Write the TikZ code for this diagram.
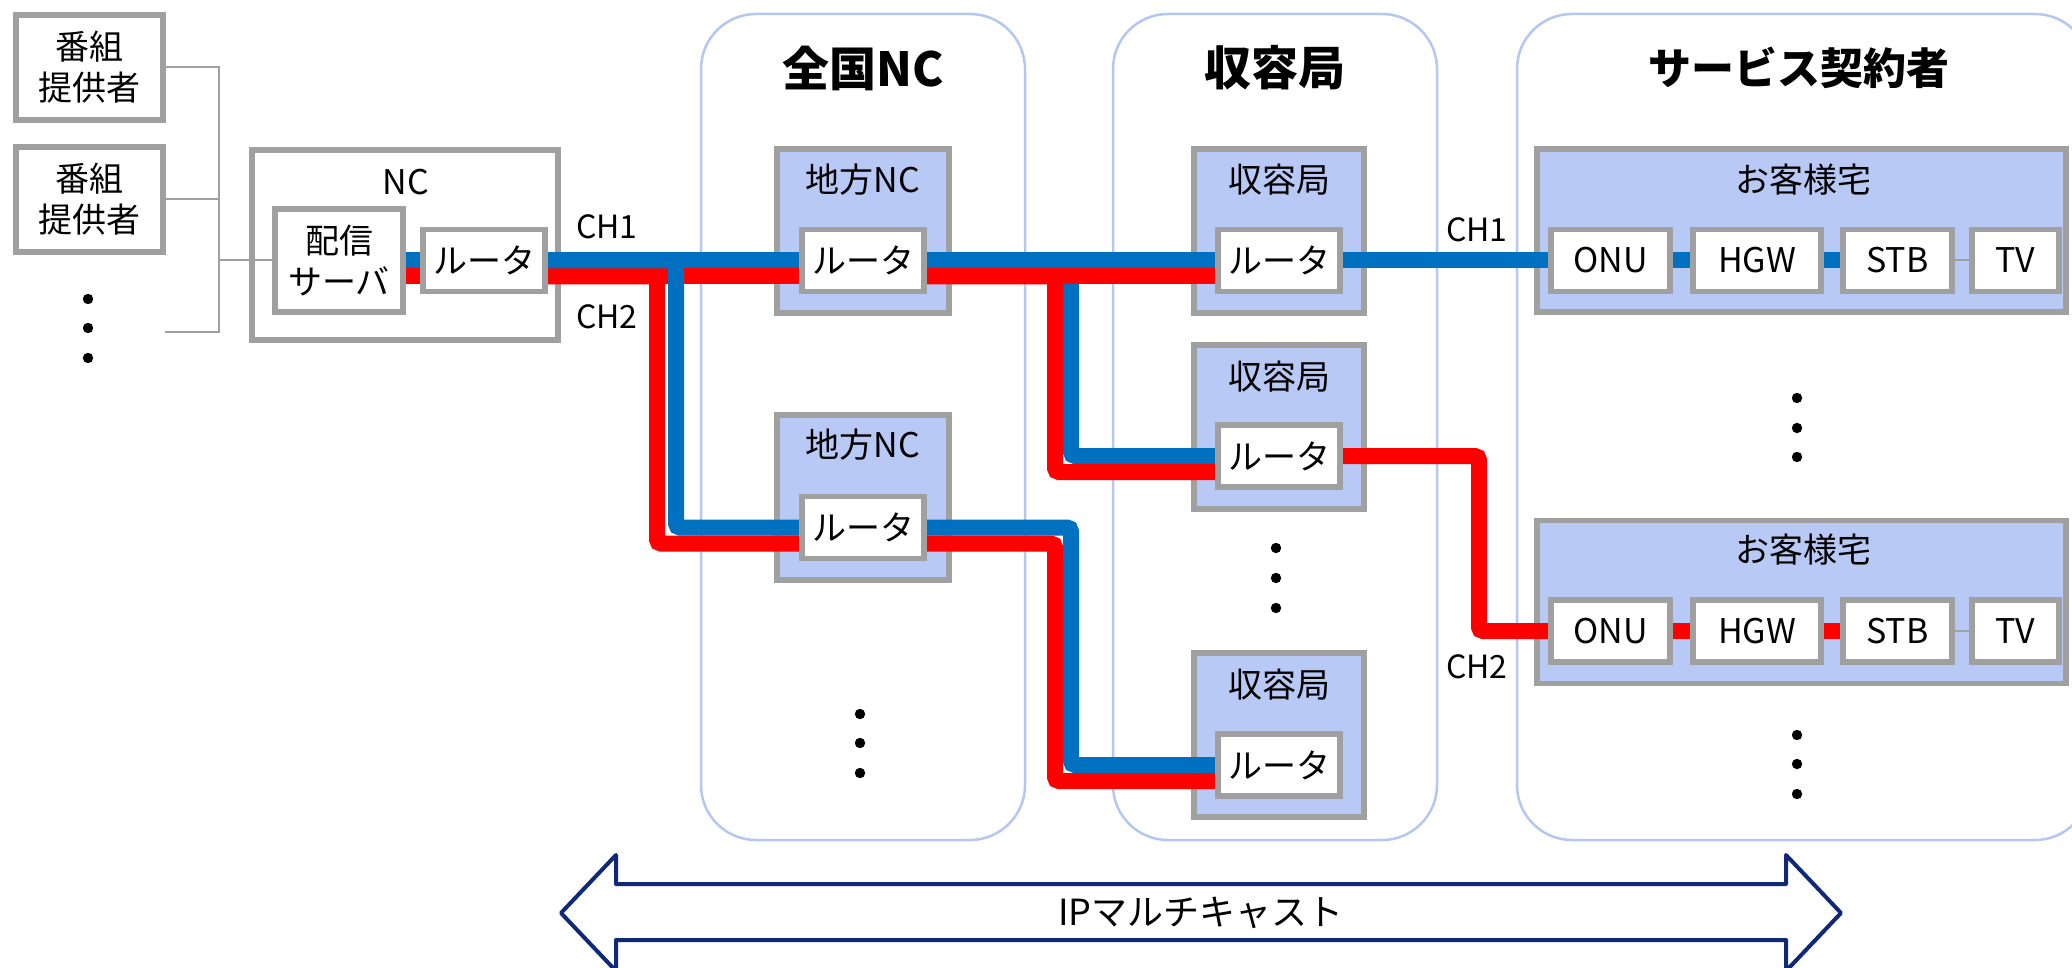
\documentclass[tikz,border=0pt]{standalone}
\usepackage{fontspec}
\setmainfont{Noto Sans CJK JP}
\definecolor{gr}{RGB}{160,160,160}
\definecolor{lb}{RGB}{184,201,245}
\definecolor{cb}{RGB}{180,199,240}
\definecolor{blu}{RGB}{0,112,192}
\definecolor{rdc}{RGB}{255,0,0}
\definecolor{nv}{RGB}{16,40,120}
\pgfdeclarelayer{back}
\pgfdeclarelayer{mid}
\pgfsetlayers{back,mid,main}
\begin{document}
\begin{tikzpicture}[x=0.5pt,y=-0.5pt,
  gbox/.style={draw=gr, line width=2.75pt, fill=white, inner sep=0pt},
  lbox/.style={draw=gr, line width=2.75pt, fill=lb, inner sep=0pt},
  rtr/.style={gbox, lab, minimum width=61pt, minimum height=31pt},
  dev/.style={gbox, lab, minimum height=31pt},
  cont/.style={draw=cb, line width=1.25pt, rounded corners=27.5pt, fill=white, inner sep=0pt, minimum height=413pt},
  bl/.style={draw=blu, line width=8pt, rounded corners=2pt},
  rd/.style={draw=rdc, line width=8pt, rounded corners=2pt},
  thinc/.style={draw=gr, line width=1pt},
  lab/.style={font=\fontsize{17}{20.5}\selectfont, align=center, inner sep=0pt},
  chl/.style={font=\fontsize{16}{19}\selectfont, inner sep=0pt},
  ttl/.style={font=\bfseries\fontsize{23.5}{26}\selectfont, inner sep=0pt},
  dotc/.style={fill=black}]
\useasboundingbox (0,0) rectangle (2072,968);

% ---------- background containers ----------
\begin{pgfonlayer}{back}
\fill[white] (0,0) rectangle (2072,968);
\node[cont, minimum width=162pt] (zc) at (863,427) {};
\node[cont, minimum width=162pt] (sc) at (1275,427) {};
\node[cont, minimum width=286.5pt] (uc) at (1803.5,427) {};
\node[gbox, minimum width=153pt, minimum height=95pt] (nc) at (405,245) {};
\node[lbox, minimum width=86pt, minimum height=82pt] (c1) at (863,231) {};
\node[lbox, minimum width=86pt, minimum height=82.5pt] (c2) at (863,497.5) {};
\node[lbox, minimum width=85pt, minimum height=82pt] (k1) at (1279,231) {};
\node[lbox, minimum width=85pt, minimum height=82pt] (k2) at (1279,427) {};
\node[lbox, minimum width=85pt, minimum height=82pt] (k3) at (1279,735) {};
\node[lbox, minimum width=264.5pt, minimum height=81.5pt] (h1) at (1801.5,230.5) {};
\node[lbox, minimum width=264.5pt, minimum height=81.5pt] (h2) at (1801.5,602) {};
\end{pgfonlayer}

% ---------- providers ----------
\node[gbox, lab, minimum width=73.5pt, minimum height=52.5pt] (p1) at (89.5,67.5) {番組\\提供者};
\node[gbox, lab, minimum width=73.5pt, minimum height=52.5pt] (p2) at (89.5,199.5) {番組\\提供者};
\fill[dotc] (88,299) circle[radius=2.6pt];
\fill[dotc] (88,328) circle[radius=2.6pt];
\fill[dotc] (88,358) circle[radius=2.6pt];

% ---------- NC ----------
\node[lab] (tnc) at (406,182) {NC};
\node[gbox, lab, minimum width=64pt, minimum height=51.5pt] (srv) at (339,260.5) {配信\\サーバ};
\node[rtr] (ncr) at (484,260.5) {ルータ};
\node[chl] (ch1a) at (607,227) {CH1};
\node[chl] (ch2a) at (607,317) {CH2};

% ---------- 全国NC ----------
\node[ttl] (tzc) at (863,68) {全国NC};
\node[lab] (tc1) at (863,180) {地方NC};
\node[rtr] (r1) at (863,260.5) {ルータ};
\node[lab] (tc2) at (863,445) {地方NC};
\node[rtr] (r2) at (863,527.5) {ルータ};
\fill[dotc] (860,714) circle[radius=2.6pt];
\fill[dotc] (860,743) circle[radius=2.6pt];
\fill[dotc] (860,773) circle[radius=2.6pt];

% ---------- 収容局 ----------
\node[ttl] (tsc) at (1275,68) {収容局};
\node[lab] (tk1) at (1279,180) {収容局};
\node[rtr] (k1r) at (1279,260.5) {ルータ};
\node[lab] (tk2) at (1279,377) {収容局};
\node[rtr] (k2r) at (1279,456) {ルータ};
\fill[dotc] (1276,548) circle[radius=2.6pt];
\fill[dotc] (1276,578) circle[radius=2.6pt];
\fill[dotc] (1276,608) circle[radius=2.6pt];
\node[lab] (tk3) at (1279,685) {収容局};
\node[rtr] (k3r) at (1279,765) {ルータ};

% ---------- サービス契約者 ----------
\node[ttl, font=\bfseries\fontsize{21.5}{26}\selectfont] (tuc) at (1799,68) {サービス契約者};
\node[lab] (th1) at (1803,180) {お客様宅};
\node[dev, minimum width=59.5pt] (o1) at (1610.5,260.5) {ONU};
\node[dev, minimum width=64pt] (g1) at (1757,260.5) {HGW};
\node[dev, minimum width=54.5pt] (s1) at (1897.5,260.5) {STB};
\node[dev, minimum width=43.5pt] (t1) at (2015.5,260.5) {TV};
\node[chl] (ch1b) at (1477,230) {CH1};
\fill[dotc] (1797,398) circle[radius=2.6pt];
\fill[dotc] (1797,428) circle[radius=2.6pt];
\fill[dotc] (1797,457) circle[radius=2.6pt];
\node[lab] (th2) at (1803,550) {お客様宅};
\node[dev, minimum width=59.5pt] (o2) at (1610.5,631) {ONU};
\node[dev, minimum width=64pt] (g2) at (1757,631) {HGW};
\node[dev, minimum width=54.5pt] (s2) at (1897.5,631) {STB};
\node[dev, minimum width=43.5pt] (t2) at (2015.5,631) {TV};
\node[chl] (ch2b) at (1477,667) {CH2};
\fill[dotc] (1797,735) circle[radius=2.6pt];
\fill[dotc] (1797,764) circle[radius=2.6pt];
\fill[dotc] (1797,794) circle[radius=2.6pt];

% ---------- IP multicast arrow ----------
\draw[nv, line width=2pt, fill=white, line join=round]
  (561,913) -- (616,855) -- (616,884) -- (1786,884) -- (1786,855) -- (1841,913)
  -- (1786,971) -- (1786,940) -- (616,940) -- (616,971) -- cycle;
\node[font=\fontsize{18}{20}\selectfont, inner sep=0pt] (ipm) at (1201,913) {IPマルチキャスト};

% ---------- connectors ----------
\begin{pgfonlayer}{mid}
\coordinate (jx) at (219,0);
\coordinate (stub) at (165,332);
\draw[thinc] (p1.east) -| (jx |- stub) -- (stub);
\draw[thinc] (p2.east) -- (p2.east -| jx);
\draw[thinc] (srv.west) -- (srv.west -| jx);

\coordinate (bx1) at (676,0);
\coordinate (rx1) at (657,0);
\coordinate (bx2) at (1071,0);
\coordinate (rx2) at (1055,0);
\coordinate (rx3) at (1479,0);
\coordinate (srvR) at ([yshift=-8pt]srv.east);
\coordinate (ncrRi) at ([yshift=-8pt]ncr.west);
\coordinate (ncrRo) at ([yshift=-8pt]ncr.east);
\coordinate (r1Ri) at ([yshift=-8pt]r1.west);
\coordinate (r1Ro) at ([yshift=-8pt]r1.east);
\coordinate (r2Ri) at ([yshift=-8pt]r2.west);
\coordinate (r2Ro) at ([yshift=-8pt]r2.east);
\coordinate (k1Ri) at ([yshift=-8pt]k1r.west);
\coordinate (k2Ri) at ([yshift=-8pt]k2r.west);
\coordinate (k3Ri) at ([yshift=-8pt]k3r.west);

% red (CH2)
\draw[rd] (srvR) -- (ncrRi);
\draw[rd] (ncrRo) -- (r1Ri);
\draw[rd] (ncrRo) -| (rx1 |- r2Ri) -- (r2Ri);
\draw[bl] (r1.east) -| (bx2 |- k2r.west) -- (k2r.west);
\draw[rd] (r1Ro) -- (k1Ri);
\draw[rd] (r1Ro) -| (rx2 |- k2Ri) -- (k2Ri);
\draw[rd] (r2Ro) -| (rx2 |- k3Ri) -- (k3Ri);
\draw[rd] (k2r.east) -| (rx3 |- o2.west) -- (o2.west);
\draw[rd] (o2.east) -- (g2.west);
\draw[rd] (g2.east) -- (s2.west);
% blue (CH1)
\draw[bl] (srv.east) -- (ncr.west);
\draw[bl] (ncr.east) -- (r1.west);
\draw[bl] (ncr.east) -| (bx1 |- r2.west) -- (r2.west);
\draw[bl] (r1.east) -- (k1r.west);
\draw[bl] (r2.east) -| (bx2 |- k3r.west) -- (k3r.west);
\draw[bl] (k1r.east) -- (o1.west);
\draw[bl] (o1.east) -- (g1.west);
\draw[bl] (g1.east) -- (s1.west);
% thin
\draw[thinc] (s1.east) -- (t1.west);
\draw[thinc] (s2.east) -- (t2.west);
\end{pgfonlayer}
\end{tikzpicture}
\end{document}
